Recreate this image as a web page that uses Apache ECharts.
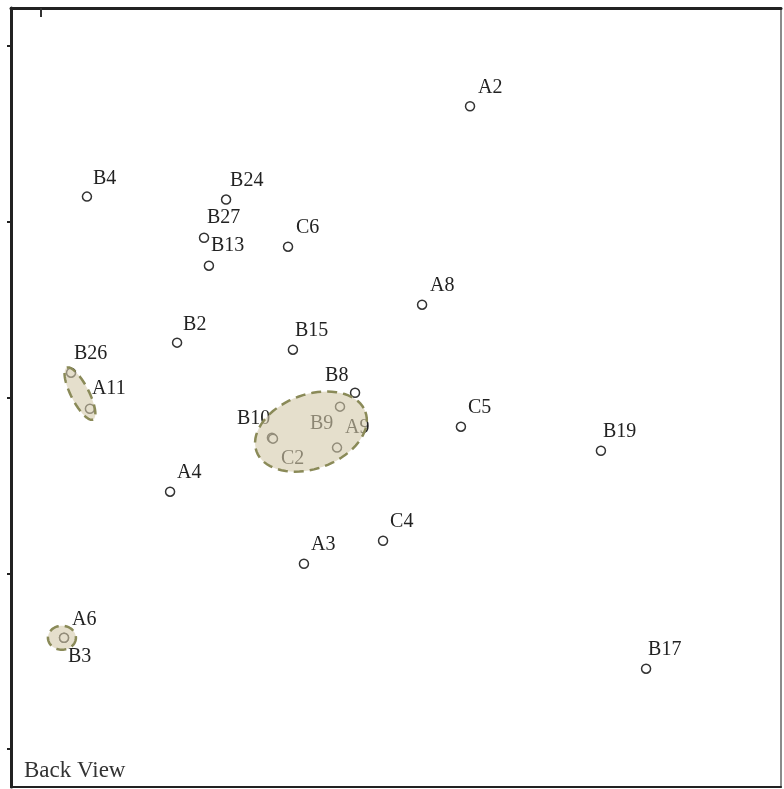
<!DOCTYPE html>
<html>
<head>
<meta charset="utf-8">
<script src="https://cdn.jsdelivr.net/npm/echarts@6/dist/echarts.min.js"></script>
<style>
  html, body { margin: 0; padding: 0; background: #fff; }
  #chart { width: 784px; height: 789px; }
</style>
</head>
<body>
<div id="chart"></div>
<script>
// point names and coordinates
const names = ['A2', 'B4', 'B24', 'B27', 'B13', 'C6', 'A8', 'B2', 'B15', 'B26', 'A11', 'B8',
  'B9', 'A9', 'B10', 'C2', 'C5', 'B19', 'A4', 'C4', 'A3', 'A6', 'B3', 'B17'];
const xs = [0.423, -1.766, -0.971, -1.097, -1.069, -0.617, 0.149, -1.251, -0.589, -1.857, -1.749, -0.234,
  -0.320, -0.337, -0.709, -0.703, 0.371, 1.171, -1.291, -0.074, -0.526, -1.897, -1.897, 1.429];
const ys = [1.658, 1.144, 1.127, 0.910, 0.751, 0.859, 0.529, 0.313, 0.273, 0.142, -0.063, 0.028,
  -0.051, -0.284, -0.228, -0.233, -0.165, -0.302, -0.535, -0.814, -0.945, -1.366, -1.366, -1.542];
// where each label sits relative to its point (px)
const labelOffsets = [[8, -19], [6, -18], [4, -19], [3, -20], [2, -20], [8, -19], [8, -19], [6, -18],
  [2, -19], [3, -19], [2, -20], [-30, -17], [-30, 17], [8, -20], [-35, -19], [8, 20], [7, -19],
  [2, -19], [7, -19], [7, -19], [7, -19], [8, -18], [4, 19], [2, -19]];

// cluster ellipses: centre x, centre y, half width, half height, rotation (deg)
const ellipseCx = [-1.806, -0.486, -1.909];
const ellipseCy = [0.023, -0.193, -1.366];
const ellipseRx = [0.166, 0.331, 0.08];
const ellipseRy = [0.051, 0.211, 0.068];
const ellipseRot = [-63, 20, 0];

const yTicks = [-2, -1, 0, 1, 2];

const chart = echarts.init(document.getElementById('chart'));

const points = names.map((n, i) => ({
  name: n,
  value: [xs[i], ys[i]],
  label: { offset: labelOffsets[i] }
}));

const ellipses = ellipseCx.map((cx, i) => [cx, ellipseCy[i], ellipseRx[i], ellipseRy[i], ellipseRot[i]]);

const option = {
  animation: false,
  grid: {
    left: 11, right: 3, top: 8, bottom: 2,
    show: true, borderColor: '#666', borderWidth: 1.5
  },
  xAxis: [
    {
      type: 'value', min: -2.2, max: 2.2, position: 'top',
      splitLine: { show: false },
      axisLine: { show: true, onZero: false, lineStyle: { color: '#222', width: 3 } },
      axisTick: { show: true, inside: true, length: 9, customValues: [-2.03], lineStyle: { color: '#333', width: 2 } },
      axisLabel: { show: false }
    },
    {
      type: 'value', min: -2.2, max: 2.2, position: 'bottom',
      splitLine: { show: false },
      axisLine: { show: true, onZero: false, lineStyle: { color: '#222', width: 2 } },
      axisTick: { show: false },
      axisLabel: { show: false }
    }
  ],
  yAxis: {
    type: 'value', min: -2.215, max: 2.217,
    splitLine: { show: false },
    axisLine: { show: true, onZero: false, lineStyle: { color: '#222', width: 3 } },
    axisTick: { show: true, length: 4, customValues: yTicks, lineStyle: { color: '#222', width: 2 } },
    axisLabel: { show: false }
  },
  graphic: [{
    type: 'text', left: 24, top: 759,
    style: { text: 'Back View', fontFamily: 'Liberation Serif', fontSize: 23, fill: '#333' }
  }],
  series: [
    {
      type: 'scatter',
      z: 2,
      symbol: 'circle',
      symbolSize: 9,
      itemStyle: { color: '#fff', borderColor: '#333', borderWidth: 1.5, opacity: 1 },
      label: {
        show: true,
        position: 'inside',
        align: 'left',
        verticalAlign: 'middle',
        formatter: '{b}',
        fontFamily: 'Liberation Serif',
        fontSize: 20,
        color: '#222'
      },
      data: points
    },
    {
      type: 'custom',
      z: 5,
      silent: true,
      renderItem: function (params, api) {
        const c = api.coord([api.value(0), api.value(1)]);
        const s = api.size([api.value(2), api.value(3)]);
        const rot = -api.value(4) * Math.PI / 180;
        const pts = [];
        for (let k = 0; k < 72; k++) {
          const t = k / 72 * Math.PI * 2;
          const ex = s[0] * Math.cos(t), ey = s[1] * Math.sin(t);
          pts.push([c[0] + ex * Math.cos(rot) - ey * Math.sin(rot),
                    c[1] + ex * Math.sin(rot) + ey * Math.cos(rot)]);
        }
        return {
          type: 'polygon',
          shape: { points: pts },
          style: {
            fill: 'rgba(212,202,170,0.6)',
            stroke: '#8a8a58',
            lineWidth: 2.5,
            lineDash: [10, 6]
          }
        };
      },
      data: ellipses
    }
  ]
};

chart.setOption(option);
</script>
</body>
</html>
